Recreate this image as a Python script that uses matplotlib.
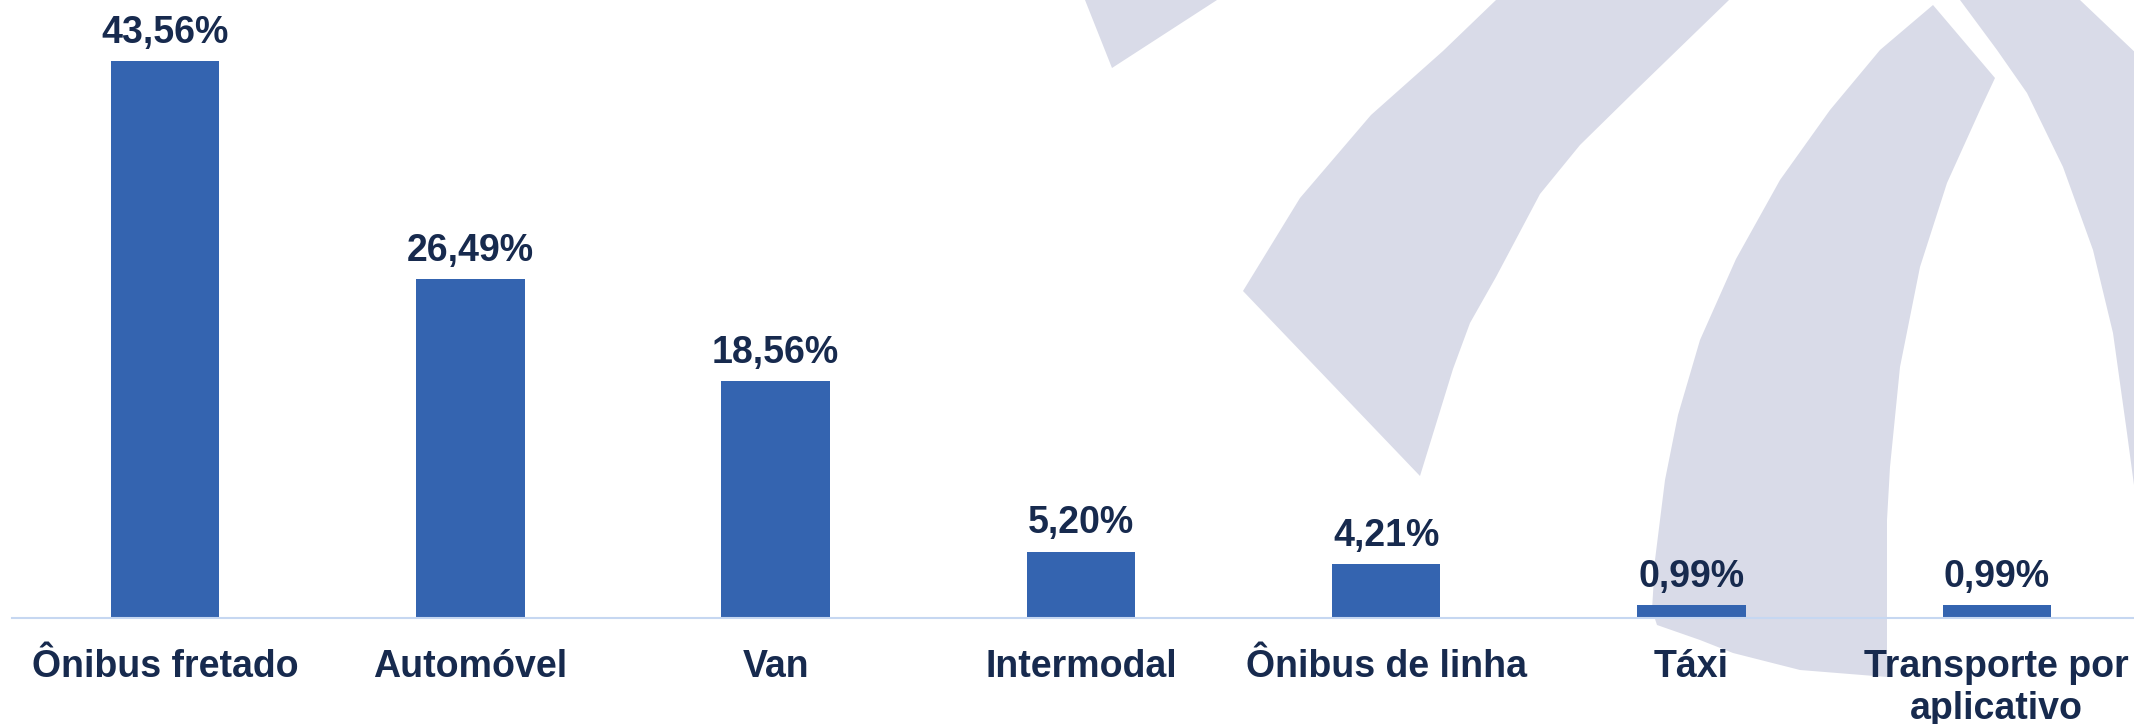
"""
Bar chart: share of commute modes (%), with the light watermark arcs behind.
"""

import matplotlib.pyplot as plt
from matplotlib.patches import Polygon

plt.rcParams["font.family"] = ["Liberation Sans", "DejaVu Sans"]

CATEGORIES = [
    "Ônibus fretado",
    "Automóvel",
    "Van",
    "Intermodal",
    "Ônibus de linha",
    "Táxi",
    "Transporte por\naplicativo",
]
SHARES = [43.56, 26.49, 18.56, 5.20, 4.21, 0.99, 0.99]
LABELS = ["43,56%", "26,49%", "18,56%", "5,20%", "4,21%", "0,99%", "0,99%"]

BAR_COLOR = "#3464b0"
TEXT_COLOR = "#172a4e"
BASE_COLOR = "#c6d7f1"
MARK_COLOR = "#d9dbe8"

W, H = 2134, 724

# watermark outline, in figure pixels (decoration only)
WATERMARK = [
    [(1085, 0), (1112, 68), (1217, 0)],
    [(1243, 291), (1300, 198), (1371, 115), (1443, 51), (1496, 0),
     (1729, 0), (1634, 92), (1580, 145), (1540, 194), (1496, 277),
     (1470, 323), (1453, 369), (1420, 476)],
    [(1933, 5), (1880, 50), (1830, 110), (1780, 180), (1736, 259),
     (1700, 340), (1678, 415), (1665, 480), (1655, 560), (1652, 610),
     (1657, 625), (1700, 640), (1733, 653), (1800, 670), (1887, 677),
     (1887, 520), (1890, 467), (1900, 367), (1920, 267), (1947, 183),
     (1980, 110), (1995, 78)],
    [(1960, 0), (1997, 50), (2027, 93), (2063, 167), (2093, 250),
     (2113, 333), (2127, 433), (2136, 500), (2140, 500), (2140, 57),
     (2080, 0)],
]


def main() -> None:
    fig = plt.figure(figsize=(W / 100, H / 100), dpi=100)
    fig.patch.set_facecolor("white")

    bg = fig.add_axes([0, 0, 1, 1], zorder=0)
    bg.set_xlim(0, W)
    bg.set_ylim(H, 0)
    bg.axis("off")
    for pts in WATERMARK:
        bg.add_patch(Polygon(pts, closed=True, facecolor=MARK_COLOR,
                             edgecolor="none"))

    ax = fig.add_axes([12.4 / W, 106 / H, 2137 / W, 618 / H], zorder=1)
    ax.patch.set_alpha(0)

    x = range(len(CATEGORIES))
    ax.bar(x, SHARES, width=0.355, color=BAR_COLOR, zorder=2)

    for xi, val, lab in zip(x, SHARES, LABELS):
        ax.annotate(lab, (xi, val), textcoords="offset points",
                    xytext=(0, 13), ha="center", va="baseline",
                    fontsize=27, fontweight="bold", color=TEXT_COLOR)

    ax.set_xlim(-0.5, 6.5)
    ax.set_ylim(0, 48.36)
    ax.set_xticks(list(x))
    ax.set_xticklabels(CATEGORIES, fontsize=27, fontweight="bold",
                       color=TEXT_COLOR, linespacing=1.23)
    ax.tick_params(axis="x", length=0, pad=22)
    ax.set_yticks([])
    for side in ("top", "right", "left"):
        ax.spines[side].set_visible(False)
    ax.spines["bottom"].set_color(BASE_COLOR)
    ax.spines["bottom"].set_linewidth(1.5)

    fig.savefig("out.png", dpi=100, facecolor="white")


if __name__ == "__main__":
    main()
